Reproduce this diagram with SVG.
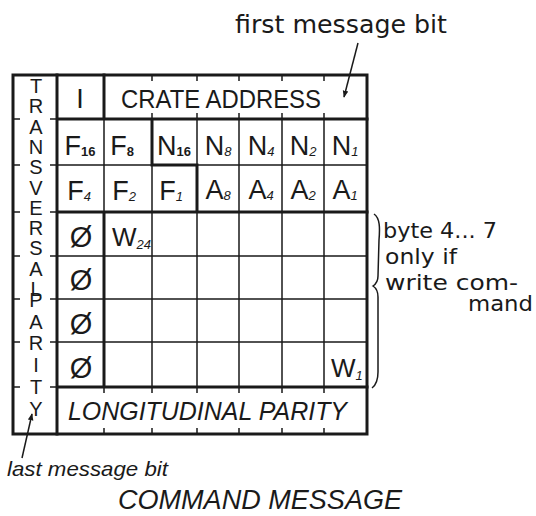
<svg xmlns="http://www.w3.org/2000/svg" width="536" height="516" viewBox="0 0 536 516">
<style>
.thick{stroke:#1a1a1a;stroke-width:3;fill:none;stroke-linecap:square}
.thin{stroke:#1a1a1a;stroke-width:1.5;fill:none}
.t{font-family:"Liberation Sans",Arial,sans-serif;fill:#1a1a1a}
.h{font-family:"DejaVu Sans","Liberation Sans",sans-serif;fill:#1a1a1a}
.cell{font-size:27px;text-anchor:middle}
.sub{font-size:13px;font-style:italic}
.bsub{font-size:13px;font-weight:bold}
.vl{font-size:20px;writing-mode:vertical-rl;text-orientation:upright}
.phi{font-size:29px;text-anchor:middle}
</style>
<defs>
<marker id="ah" viewBox="0 0 10 10" refX="9" refY="5" markerWidth="7" markerHeight="7" orient="auto" markerUnits="userSpaceOnUse">
<path d="M0,1 L10,5 L0,9 Z" fill="#1a1a1a"/>
</marker>
</defs>
<rect width="536" height="516" fill="#ffffff"/>

<g id="grid">
<path class="thin" d="M57,165 H367 M104,119 V212 M152,165 V387 M197,119 V165 M197,212 V387 M239,119 V387 M282,119 V387 M324,119 V387 M57,256 H367 M57,299 H367 M57,342 H367"/>
<path class="thin" d="M152,75 V81 M197,75 V81 M239,75 V81 M282,75 V81 M324,75 V81 M152,113 V119 M197,113 V119 M239,113 V119 M282,113 V119 M324,113 V119 M104,387 V393 M152,387 V393 M197,387 V393 M239,387 V393 M282,387 V393 M324,387 V393 M104,428 V434 M152,428 V434 M197,428 V434 M239,428 V434 M282,428 V434 M324,428 V434 M13,119 H20 M13,165 H20 M13,212 H20 M13,256 H20 M13,299 H20 M13,342 H20 M13,387 H20 M50,119 H57 M50,165 H57 M50,212 H57 M50,256 H57 M50,299 H57 M50,342 H57 M50,387 H57"/>
<rect class="thick" x="13" y="75" width="354" height="359"/>
<path class="thick" d="M57,75 V434 M57,119 H367 M104,75 V119 M57,212 H367 M104,212 V387 M57,387 H367 M152,119 V165 H197 V212"/>
</g>

<g id="transversal-parity">
<text class="t vl" x="36" y="75" letter-spacing="-1.7">TRANSVERSAL</text>
<text class="t vl" x="36" y="289" letter-spacing="-0.3">PARITY</text>
</g>

<g id="row1">
<text class="t cell" x="80" y="108">I</text>
<text class="t" x="121" y="108" font-size="26" textLength="200" lengthAdjust="spacingAndGlyphs">CRATE ADDRESS</text>
</g>

<g id="row2" class="t cell">
<text x="80" y="155">F<tspan class="bsub" dy="1">16</tspan></text>
<text x="122" y="155">F<tspan class="bsub" dy="1">8</tspan></text>
<text x="174" y="155">N<tspan class="bsub" dy="1">16</tspan></text>
<text x="218" y="155">N<tspan class="sub" dy="1">8</tspan></text>
<text x="261" y="155">N<tspan class="sub" dy="1">4</tspan></text>
<text x="303" y="155">N<tspan class="sub" dy="1">2</tspan></text>
<text x="345" y="155">N<tspan class="sub" dy="1">1</tspan></text>
</g>

<g id="row3" class="t cell">
<text x="79" y="200">F<tspan class="sub" dy="1">4</tspan></text>
<text x="124" y="200">F<tspan class="sub" dy="1">2</tspan></text>
<text x="171" y="200">F<tspan class="sub" dy="1">1</tspan></text>
<text x="218" y="199">A<tspan class="sub" dy="1">8</tspan></text>
<text x="261" y="199">A<tspan class="sub" dy="1">4</tspan></text>
<text x="303" y="199">A<tspan class="sub" dy="1">2</tspan></text>
<text x="345" y="199">A<tspan class="sub" dy="1">1</tspan></text>
</g>

<g id="data-bytes">
<text class="t phi" x="81" y="247">Ø</text>
<text class="t phi" x="81" y="290">Ø</text>
<text class="t phi" x="81" y="334">Ø</text>
<text class="t phi" x="81" y="378">Ø</text>
<text class="t" x="112" y="246" font-size="26">W<tspan class="sub" font-size="10" dy="3">24</tspan></text>
<text class="t" x="331" y="377" font-size="26">W<tspan class="sub" font-size="10" dy="3">1</tspan></text>
</g>

<g id="longitudinal-parity">
<text class="t" x="68" y="420" font-size="26" font-style="italic" textLength="279" lengthAdjust="spacingAndGlyphs">LONGITUDINAL PARITY</text>
</g>

<g id="connectors">
<line class="thin" x1="358" y1="43" x2="344" y2="97" marker-end="url(#ah)"/>
<line class="thin" x1="22" y1="458" x2="32" y2="414" marker-end="url(#ah)"/>
<path class="thin" d="M374,214 C380,218 380,228 379,240 L378,276 C378,282 376,284 373,286 C376,288 378,291 378,297 L378,372 C378,380 376,385 372,388"/>
</g>

<g id="first-message-bit">
<text class="h" x="235" y="33" font-size="25" textLength="212" lengthAdjust="spacingAndGlyphs">first message bit</text>
</g>

<g id="last-message-bit">
<text class="t" x="7" y="476" font-size="21" font-style="italic" textLength="161" lengthAdjust="spacingAndGlyphs">last message bit</text>
</g>

<g id="note">
<text class="h" x="383" y="238" font-size="21" textLength="114" lengthAdjust="spacingAndGlyphs">byte 4... 7</text>
<text class="h" x="385" y="264" font-size="21" textLength="72" lengthAdjust="spacingAndGlyphs">only if</text>
<text class="h" x="385" y="290" font-size="21" textLength="133" lengthAdjust="spacingAndGlyphs">write com-</text>
<text class="h" x="468" y="311" font-size="21" textLength="65" lengthAdjust="spacingAndGlyphs">mand</text>
</g>

<g id="title">
<text class="t" x="118" y="509" font-size="27" font-style="italic" textLength="284" lengthAdjust="spacingAndGlyphs">COMMAND MESSAGE</text>
</g>
</svg>
